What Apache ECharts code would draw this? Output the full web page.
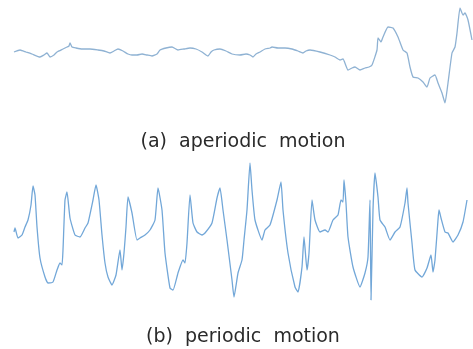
<!DOCTYPE html>
<html><head><meta charset="utf-8">
<script src="https://cdn.jsdelivr.net/npm/echarts@6/dist/echarts.min.js"></script>
<style>html,body{margin:0;padding:0;background:#fff}#c{width:473px;height:349px}</style>
</head><body><div id="c"></div>
<script>
// (a) aperiodic motion : sample index and amplitude
var topTime = [0,6,12,18,26,30,33,36,40,43,49,53,55,56,58,62,68,76,84,90,96,100,104,109,114,118,123,128,133,138,143,146,152,158,164,170,176,182,188,192,194,197,200,206,212,218,226,232,236,239,242,246,251,256,258,264,271,278,284,289,292,296,306,316,321,326,329,334,338,341,346,351,355,358,363,364,367,369,374,379,384,389,393,396,399,404,409,413,416,421,424,428,431,434,438,441,443,446,449,451,454,458];
var topAmp = [0,2,0,-2,-5,-3,-1,-5,-3,0,3,5,6,9,5,4,3,3,2,1,-1,1,3,1,-2,-3,-3,-2,-3,-4,-2,2,4,5,2,3,4,3,0,-3,-4,0,2,3,1,-2,-3,-2,-3,-5,-2,0,3,4,5,4,4,3,1,-1,1,2,0,-3,-5,-8,-7,-18,-16,-15,-18,-16,-15,-13,2,14,10,15,25,24,15,2,-1,-15,-25,-26,-30,-35,-26,-23,-31,-41,-51,-31,-1,5,19,44,37,39,32,12];
// (b) periodic motion : sample index and amplitude
var bottomTime = [0,1,4,8,11,14,17,19,21,23,26,31,34,39,43,46,48,49,51,53,56,61,66,71,74,79,82,85,88,91,94,98,102,106,108,110,112,114,118,123,126,131,136,141,144,148,151,156,159,164,169,171,173,176,179,183,188,191,198,203,206,209,213,218,220,224,228,230,233,236,238,241,248,251,256,263,267,269,274,281,284,288,290,293,295,298,301,306,311,314,319,324,327,329,330,332,334,339,346,351,354,356,357,359,361,364,366,371,376,381,386,391,393,394,398,401,408,413,417,419,421,424,425,427,431,434,439,444,449,453];
var bottomAmp = [8,12,2,5,13,20,35,54,45,13,-18,-37,-43,-42,-30,-23,-25,-10,40,48,22,5,3,12,17,40,55,40,5,-23,-37,-45,-35,-10,-30,-13,13,43,27,0,2,5,10,20,52,30,-13,-48,-50,-33,-20,-23,-3,45,17,8,5,7,17,42,52,30,0,-40,-57,-33,-20,0,30,77,50,20,0,10,15,40,58,30,-13,-47,-52,-27,3,-30,-13,40,20,8,10,8,20,25,40,38,60,37,3,-27,-47,-33,-17,40,-60,30,67,43,20,13,0,8,13,37,52,37,-3,-30,-37,-28,-15,-32,-20,20,30,22,8,7,-2,5,18,40];
var captions = ['(a)  aperiodic  motion', '(b)  periodic  motion'];

function pairs(t, v){ return t.map(function(x,i){ return [x, v[i]]; }); }
var chart = echarts.init(document.getElementById('c'));
chart.setOption({
  animation:false,
  grid:[
    {left:14, top:8, width:458, height:95},
    {left:14, top:163, width:458, height:137}
  ],
  xAxis:[
    {gridIndex:0, type:'value', min:0, max:458, show:false},
    {gridIndex:1, type:'value', min:0, max:458, show:false}
  ],
  yAxis:[
    {gridIndex:0, type:'value', min:-51, max:44, show:false},
    {gridIndex:1, type:'value', min:-60, max:77, show:false}
  ],
  series:[
    {type:'line', xAxisIndex:0, yAxisIndex:0, data:pairs(topTime, topAmp), symbol:'none', smooth:0.15,
     lineStyle:{color:'#8fb2d3', width:1.3}},
    {type:'line', xAxisIndex:1, yAxisIndex:1, data:pairs(bottomTime, bottomAmp), symbol:'none', smooth:0.15,
     lineStyle:{color:'#72a7d8', width:1.3}}
  ],
  graphic:[
    {type:'text', x:243, y:142, style:{text:captions[0], font:'19px "DejaVu Sans"', fill:'#2a2a2a', align:'center', verticalAlign:'middle'}},
    {type:'text', x:243, y:337, style:{text:captions[1], font:'19px "DejaVu Sans"', fill:'#2a2a2a', align:'center', verticalAlign:'middle'}}
  ]
});
</script></body></html>
